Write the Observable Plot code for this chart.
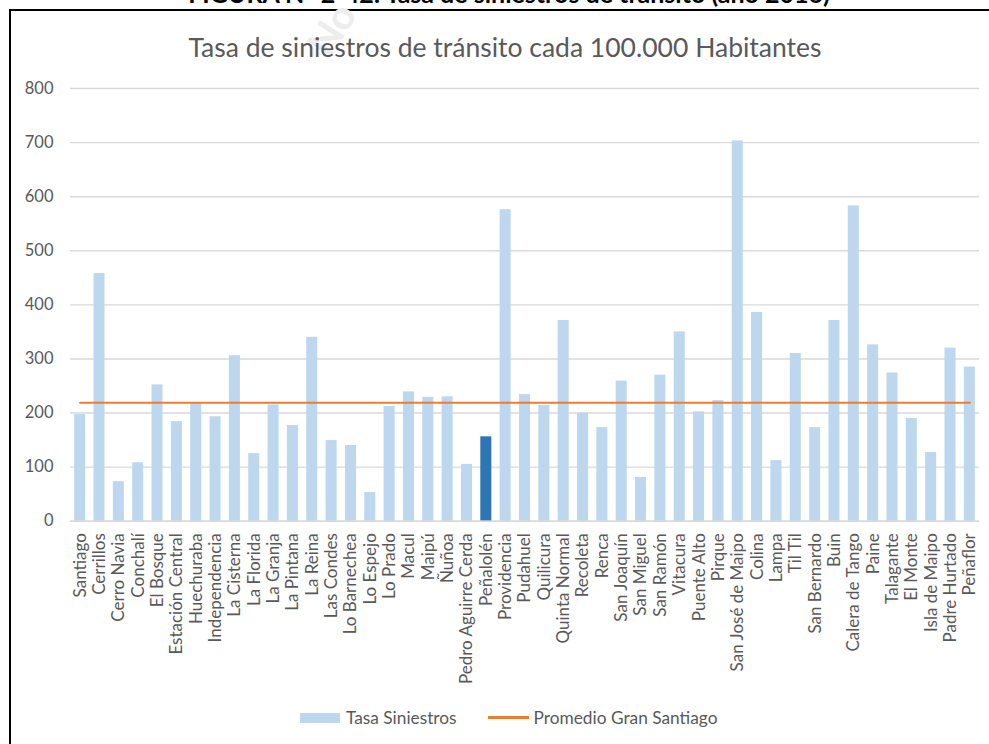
<!DOCTYPE html>
<html><head><meta charset="utf-8">
<script src="https://cdn.jsdelivr.net/npm/d3@7"></script>
<script src="https://cdn.jsdelivr.net/npm/@observablehq/plot@0.6"></script>
<style>
body{margin:0;background:#fff;overflow:hidden;font-family:Lato,"Open Sans",sans-serif;}
#page{position:relative;width:989px;height:744px;overflow:hidden;background:#fff;}
#fig{position:absolute;left:0;top:-19px;width:1018px;text-align:center;font:bold 25px Lato,sans-serif;color:#000;line-height:1;white-space:nowrap;}
#wm{position:absolute;left:334px;top:22px;font:bold 40px Lato,sans-serif;color:#ededed;line-height:1;transform:rotate(-58deg);transform-origin:left bottom;white-space:nowrap;}
#frame{position:absolute;left:9px;top:9px;width:1000px;height:760px;border-left:2.5px solid #000;border-top:2.5px solid #000;}
#title{position:absolute;left:0;top:34px;width:1010px;text-align:center;font-size:26.5px;color:#595959;line-height:1;white-space:nowrap;}
#chart{position:absolute;left:0;top:0;}
#chart svg text{font-size:17px !important;}
#chart svg g.yax text{font-size:16.5px !important;}
#legend{position:absolute;left:300px;top:707px;display:flex;align-items:center;font-size:17.3px;color:#595959;white-space:nowrap;}
.sw{display:inline-block;width:40px;height:10px;background:#BDD7EE;margin-right:6px;}
.ln{display:inline-block;width:41px;height:2.5px;background:#ED7D31;margin-left:31px;margin-right:5px;}
</style></head>
<body>
<div id="page">
  <div id="fig">FIGURA N° 2-42: Tasa de siniestros de tránsito (año 2016)</div>
  <div id="frame"></div>
  <div id="wm">No</div>
  <div id="title">Tasa de siniestros de tránsito cada 100.000 Habitantes</div>
  <div id="chart"></div>
  <div id="legend"><span class="sw"></span><span>Tasa Siniestros</span><span class="ln"></span><span>Promedio Gran Santiago</span></div>
</div>
<script>
const comunas = ["Santiago","Cerrillos","Cerro Navia","Conchalí","El Bosque","Estación Central","Huechuraba","Independencia","La Cisterna","La Florida","La Granja","La Pintana","La Reina","Las Condes","Lo Barnechea","Lo Espejo","Lo Prado","Macul","Maipú","Ñuñoa","Pedro Aguirre Cerda","Peñalolén","Providencia","Pudahuel","Quilicura","Quinta Normal","Recoleta","Renca","San Joaquín","San Miguel","San Ramón","Vitacura","Puente Alto","Pirque","San José de Maipo","Colina","Lampa","Til Til","San Bernardo","Buin","Calera de Tango","Paine","Talagante","El Monte","Isla de Maipo","Padre Hurtado","Peñaflor"];
const tasas = [197,458,73,108,252,184,219,193,306,125,215,177,340,149,140,53,212,239,229,230,105,156,576,234,214,371,200,173,259,81,270,350,202,223,703,386,112,310,173,371,583,326,274,190,127,320,285];
const promedio = 219;
const destacada = "Peñalolén";
const yTicks = [0,100,200,300,400,500,600,700,800];

const data = comunas.map((c,i)=>({comuna:c, tasa:tasas[i]}));
const chart = Plot.plot({
  width:989, height:700,
  marginTop:88, marginBottom:179.3, marginLeft:70, marginRight:10,
  style:{fontFamily:"Lato, sans-serif", fontSize:"17px", color:"#595959", background:"transparent", overflow:"visible"},
  x:{domain:comunas, paddingInner:0.43, paddingOuter:0.215, align:0.5, round:false, label:null},
  y:{domain:[0,800], label:null},
  marks:[
    Plot.gridY(yTicks,{stroke:"#D9D9D9", strokeOpacity:1, strokeWidth:1.4}),
    Plot.barY(data.filter(d=>d.comuna!==destacada),{x:"comuna", y:"tasa", fill:"#BDD7EE", inset:0}),
    Plot.barY(data.filter(d=>d.comuna===destacada),{x:"comuna", y:"tasa", fill:"#2E75B6", inset:0}),
    Plot.ruleY([0],{stroke:"#D9D9D9", strokeWidth:1.6}),
    Plot.lineY(data,{x:"comuna", y:()=>promedio, stroke:"#ED7D31", strokeWidth:2.2}),
    Plot.axisY(yTicks,{tickSize:0, tickPadding:17, fontSize:16.5, fill:"#595959", className:"yax"}),
    Plot.axisX({tickRotate:-90, tickSize:0, tickPadding:12, fontSize:17, fill:"#595959"})
  ]
});
chart.querySelectorAll("g[aria-label='y-axis tick label']").forEach(g=>g.classList.add("yax"));
document.getElementById("chart").appendChild(chart);
</script>
</body></html>
